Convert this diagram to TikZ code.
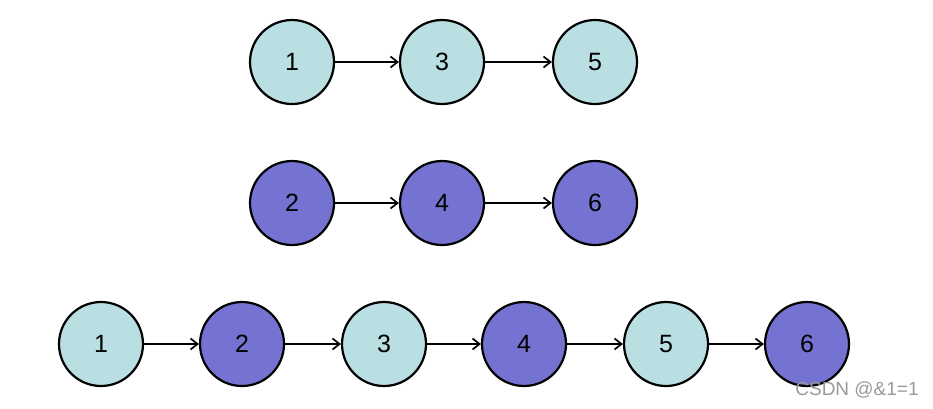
\documentclass[tikz,border=0pt]{standalone}
\usepackage{fontspec}
\setmainfont{Liberation Sans}
\usepackage{tikz}
\usetikzlibrary{arrows.meta}
\definecolor{oddfill}{HTML}{B9DFE2}
\definecolor{evenfill}{HTML}{7573D1}

\begin{document}
\begin{tikzpicture}[x=1pt,y=-1pt,
    oddnode/.style={circle,draw,line width=2.2pt,fill=oddfill,minimum size=84pt,inner sep=0pt,font=\fontsize{25}{25}\selectfont},
    evennode/.style={oddnode,fill=evenfill},
    link/.style={-{Straight Barb[length=7pt,width=11pt]},line width=1.7pt}]
            \useasboundingbox (0,0) rectangle (933,408);
            % first list
            \node[oddnode] (a1) at (292,62) {1};
            \node[oddnode] (a3) at (442,62) {3};
            \node[oddnode] (a5) at (595,62) {5};
            \draw[link] (a1) -- (a3);
            \draw[link] (a3) -- (a5);
            % second list
            \node[evennode] (b2) at (292,203) {2};
            \node[evennode] (b4) at (442,203) {4};
            \node[evennode] (b6) at (595,203) {6};
            \draw[link] (b2) -- (b4);
            \draw[link] (b4) -- (b6);
            % merged list
            \node[oddnode] (m1) at (101,344) {1};
            \node[evennode] (m2) at (242,344) {2};
            \node[oddnode] (m3) at (384,344) {3};
            \node[evennode] (m4) at (524,344) {4};
            \node[oddnode] (m5) at (666,344) {5};
            \node[evennode] (m6) at (807,344) {6};
            \foreach \p/\q in {m1/m2,m2/m3,m3/m4,m4/m5,m5/m6}
                \draw[link] (\p) -- (\q);
            \node[text=gray!80,font=\fontsize{19}{19}\selectfont] (mark) at (857,390) {CSDN @\&1=1};
        \end{tikzpicture}
\end{document}
